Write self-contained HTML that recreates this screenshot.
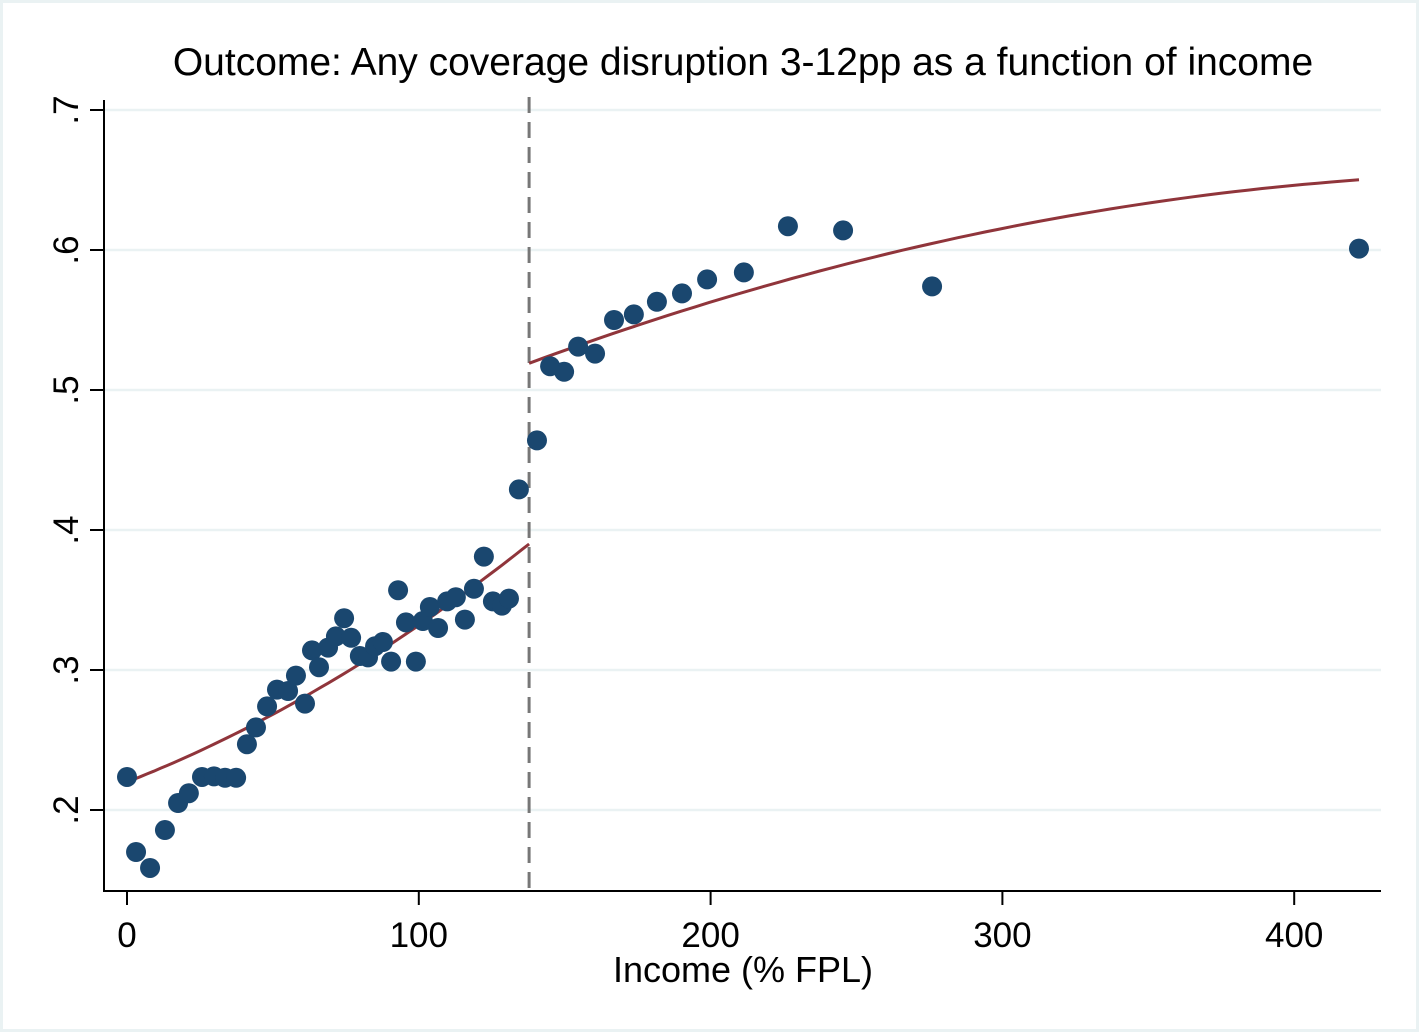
<!DOCTYPE html>
<html><head><meta charset="utf-8"><style>
html,body{margin:0;padding:0;background:#fff}
svg{display:block}
text{font-family:"Liberation Sans",Arial,sans-serif;fill:#000}
</style></head><body>
<svg id="chart" width="1419" height="1032" viewBox="0 0 1419 1032">
<rect x="1.5" y="1.5" width="1416" height="1029" fill="#fff" stroke="#eaf2f3" stroke-width="3"/>
<text x="743" y="75" font-size="39" text-anchor="middle">Outcome: Any coverage disruption 3-12pp as a function of income</text>
<g id="grid"></g><g id="axes"></g><g id="fits"></g><g id="pts"></g>
<text x="743" y="982" font-size="36" text-anchor="middle">Income (% FPL)</text>
</svg>
<script>
const xVals=[0,3.1,7.9,13,17.5,21.2,25.7,29.8,33.6,37.4,41.1,44.2,48,51.4,55.2,57.9,61,63.4,65.8,68.9,71.6,74.4,76.8,79.8,82.6,85,87.7,90.5,92.9,95.6,99,101.4,103.8,106.6,109.7,112.7,115.8,118.9,122.3,125.4,128.5,130.9,134.3,140.5,145,149.8,154.6,160.4,166.9,173.7,181.6,190.2,198.8,211.4,226.5,245.4,275.9,422.2];
const yVals=[.2236,.170,.1586,.1857,.205,.212,.2236,.224,.223,.223,.247,.259,.274,.286,.285,.296,.276,.314,.302,.316,.324,.337,.323,.310,.309,.317,.320,.306,.357,.334,.306,.335,.345,.330,.349,.352,.336,.358,.381,.349,.346,.351,.429,.464,.517,.513,.531,.526,.550,.554,.563,.569,.579,.584,.617,.614,.574,.601];
const xTicks=[0,100,200,300,400];
const yTicks=[.2,.3,.4,.5,.6,.7];
const yTickLabels=[".2",".3",".4",".5",".6",".7"];
const cutoff=137.8;
const leftFit=[0.22,0.000815,3.04e-6];
const rightFit=[0.3923,0.00107,-1.088e-6];
const xMaxFit=422.2;

const NS="http://www.w3.org/2000/svg";
const X=v=>127+v*2.918;
const Y=v=>110+(0.7-v)*1400;
function mk(tag,attrs,parent){const e=document.createElementNS(NS,tag);for(const k in attrs)e.setAttribute(k,attrs[k]);document.getElementById(parent).appendChild(e);return e;}
yTicks.forEach((t,i)=>{
  const g=mk('line',{x1:104,x2:1381,y1:Y(t),y2:Y(t),stroke:'#eaf2f3','stroke-width':2.5},'grid');
  
  
  const tk=mk('line',{x1:90,x2:104,y1:Y(t),y2:Y(t),stroke:'#000','stroke-width':2},'axes');
  
  
  const tx=mk('text',{x:0,y:0,'font-size':35,'text-anchor':'middle',transform:`translate(78,${Y(t)}) rotate(-90)`},'axes');
  tx.textContent=yTickLabels[i];
  
  
});
xTicks.forEach(t=>{
  const tk=mk('line',{x1:X(t),x2:X(t),y1:891,y2:905,stroke:'#000','stroke-width':2},'axes');
  
  
  const tx=mk('text',{x:X(t),y:947,'font-size':35,'text-anchor':'middle'},'axes');
  tx.textContent=String(t);
  
  
});
const ya=mk('line',{x1:104,x2:104,y1:100,y2:892,stroke:'#000','stroke-width':2},'axes');


const xa=mk('line',{x1:103,x2:1381,y1:891,y2:891,stroke:'#000','stroke-width':2},'axes');


const cl=mk('line',{x1:X(cutoff),x2:X(cutoff),y1:97,y2:891,stroke:'#777','stroke-width':3,'stroke-dasharray':'16,9'},'fits');


function fitPath(c,a,b){let d='';for(let i=0;i<=60;i++){const x=a+(b-a)*i/60;const y=c[0]+c[1]*x+c[2]*x*x;d+=(i?'L':'M')+X(x).toFixed(1)+','+Y(y).toFixed(1);}return d;}
const lf=mk('path',{d:fitPath(leftFit,0,cutoff),fill:'none',stroke:'#90353b','stroke-width':3},'fits');


const rf=mk('path',{d:fitPath(rightFit,cutoff,xMaxFit),fill:'none',stroke:'#90353b','stroke-width':3},'fits');


xVals.forEach((x,i)=>{
  const c=mk('circle',{cx:X(x),cy:Y(yVals[i]),r:10,fill:'#1a476f'},'pts');
  
  
});
</script>
</body></html>
